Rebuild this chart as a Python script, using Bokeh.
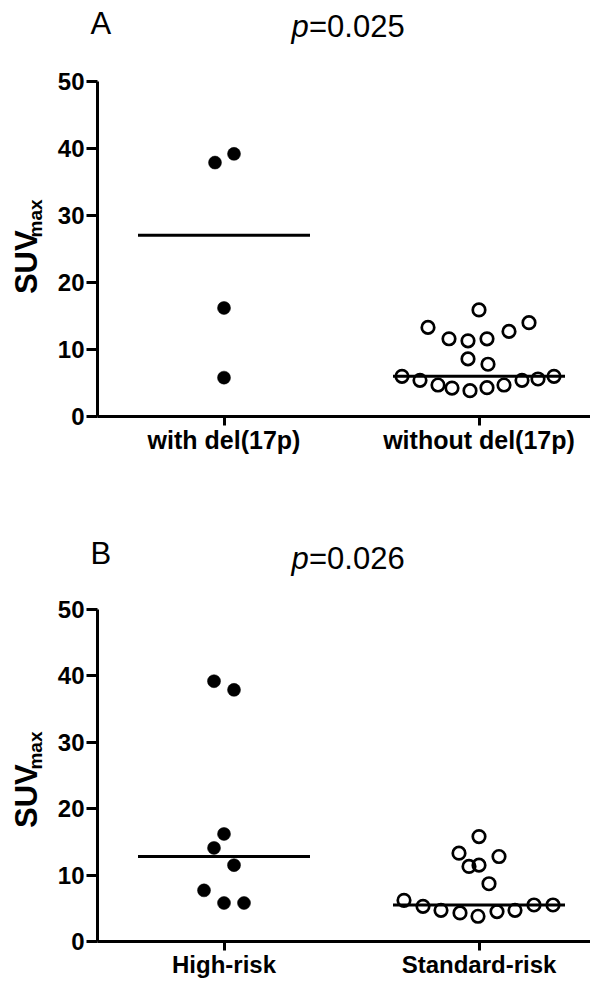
import numpy as np
from bokeh.plotting import figure
from bokeh.models import Range1d, FixedTicker
from bokeh.layouts import column, row
from bokeh.core.properties import value
from bokeh.embed import file_html
from bokeh.resources import INLINE

FONT = "Liberation Sans"

# ---------------- data ----------------
a_letter = "A"
a_pvalue = "0.025"
a_categories = ["with del(17p)", "without del(17p)"]
a_with = [37.9, 39.2, 16.2, 5.8]
a_without = [15.9, 13.3, 14.0, 11.6, 11.3, 11.6, 12.7, 8.6, 7.8,
             6.0, 5.4, 4.7, 4.25, 3.85, 4.3, 4.7, 5.4, 5.6, 6.0]

b_letter = "B"
b_pvalue = "0.026"
b_categories = ["High-risk", "Standard-risk"]
b_high = [39.2, 37.9, 16.2, 14.1, 11.5, 7.7, 5.8, 5.8]
b_std = [15.8, 13.3, 12.8, 11.3, 11.5, 8.7,
         6.2, 5.3, 4.7, 4.3, 3.8, 4.5, 4.7, 5.5, 5.5]

y_ticks = [0, 10, 20, 30, 40, 50]
y_title = "SUV"
y_title_sub = "max"

# horizontal column-scatter spread of the points (pixels)
a_with_spread = [-9, 10, 0, 0]
a_without_spread = [0, -51, 50, -30, -11, 8, 30, -11, 9,
                    -77, -59, -41, -27, -9, 8, 25, 43, 59, 75]
b_high_spread = [-10, 10, 0, -10, 10, -20, 0, 20]
b_std_spread = [0, -20, 20, -10, 0, 10,
                -75, -56, -38, -19, -1, 18, 36, 55, 74]

# ---------------- geometry ----------------
W = 590
YLAB_W = 50
MAIN_W = W - YLAB_W
LEFT = 47                  # frame left at x = 97
FRAME_LEFT = YLAB_W + LEFT
FRAME_H = 335
PX_PER_CAT = 255.0
X0 = 1 - (223.5 - FRAME_LEFT) / PX_PER_CAT
X1 = X0 + (W - FRAME_LEFT) / PX_PER_CAT
HALF_LINE = 86 / PX_PER_CAT
BASE_FIX = 12.5            # baseline correction for header texts


def blank(width, height):
    f = figure(width=width, height=height, x_range=Range1d(0, width),
               y_range=Range1d(0, height), x_axis_type=None, y_axis_type=None,
               output_backend="svg", toolbar_location=None, min_border=0)
    f.outline_line_color = None
    f.background_fill_color = "white"
    f.border_fill_color = "white"
    return f


def header(letter, pval, height, letter_base, p_base):
    h = blank(W, height)
    h.text(x=[90], y=[height - letter_base + BASE_FIX], text=[letter],
           text_align="left", text_baseline="alphabetic", text_font=value(FONT),
           text_font_size="31px", text_color="black")
    h.text(x=[291], y=[height - p_base + BASE_FIX], text=["p"], text_align="left",
           text_baseline="alphabetic", text_font=value(FONT),
           text_font_style="italic", text_font_size="31px", text_color="black")
    h.text(x=[308.5], y=[height - p_base + BASE_FIX], text=["=" + pval],
           text_align="left", text_baseline="alphabetic", text_font=value(FONT),
           text_font_size="31px", text_color="black")
    return h


def ylabel(height, bottom):
    f = blank(YLAB_W, height)
    f.text(x=[26], y=[bottom + 133], text=[y_title], angle=np.pi / 2,
           text_align="center", text_baseline="middle", text_font=value(FONT),
           text_font_style="bold", text_font_size="31px", text_color="black")
    f.text(x=[35], y=[bottom + 186], text=[y_title_sub], angle=np.pi / 2,
           text_align="center", text_baseline="middle", text_font=value(FONT),
           text_font_style="bold", text_font_size="19px", text_color="black")
    return f


def main(cats, g1, g2, s1, s2, height, top, bottom, cat_font):
    p = figure(width=MAIN_W, height=height, x_range=Range1d(X0, X1),
               y_range=Range1d(0, 50), output_backend="svg",
               toolbar_location=None, min_border_left=LEFT,
               min_border_right=0, min_border_top=top,
               min_border_bottom=bottom)
    p.outline_line_color = None
    p.xgrid.visible = False
    p.ygrid.visible = False
    p.background_fill_color = "white"
    p.border_fill_color = "white"

    for ax in (p.xaxis[0], p.yaxis[0]):
        ax.axis_line_width = 3
        ax.axis_line_color = "black"
        ax.major_tick_line_width = 3
        ax.major_tick_line_color = "black"
        ax.major_tick_in = 0
        ax.minor_tick_in = 0
        ax.minor_tick_out = 0
        ax.major_label_text_font = FONT
        ax.major_label_text_font_style = "bold"
        ax.major_label_text_color = "black"

    p.yaxis[0].ticker = FixedTicker(ticks=y_ticks)
    p.yaxis[0].major_tick_out = 11
    p.yaxis[0].major_label_text_font_size = "24px"
    p.yaxis[0].major_label_standoff = 2

    p.xaxis[0].ticker = FixedTicker(ticks=[1, 2])
    p.xaxis[0].major_label_overrides = {1: cats[0], 2: cats[1]}
    p.xaxis[0].major_tick_out = 9
    p.xaxis[0].major_label_text_font_size = cat_font
    p.xaxis[0].major_label_standoff = 0

    meds = [float(np.median(g1)), float(np.median(g2))]
    p.segment(x0=[1 - HALF_LINE, 2 - HALF_LINE], x1=[1 + HALF_LINE, 2 + HALF_LINE],
              y0=meds, y1=meds, line_width=3, line_color="black")

    p.scatter(x=1 + np.array(s1) / PX_PER_CAT, y=g1, marker="circle",
              size=13, fill_color="black", line_color="black", line_width=0.5)
    p.scatter(x=2 + np.array(s2) / PX_PER_CAT, y=g2, marker="circle",
              size=12.5, fill_color=None, line_color="black", line_width=2.7)
    return p


# Panel A: header 0..64, plot row 64..470 (frame 81..416)
A_HEAD = 64
A_ROW = 406
A_TOP = 17
A_BOT = A_ROW - A_TOP - FRAME_H
head_a = header(a_letter, a_pvalue, A_HEAD, 35, 38.3)
main_a = main(a_categories, a_with, a_without, a_with_spread, a_without_spread,
              A_ROW, A_TOP, A_BOT, "25px")
ylab_a = ylabel(A_ROW, A_BOT)

# Panel B: header 470..594, plot row 594..980 (frame 609..944)
B_HEAD = 124
B_ROW = 386
B_TOP = 15
B_BOT = B_ROW - B_TOP - FRAME_H
head_b = header(b_letter, b_pvalue, B_HEAD, 95, 100)
main_b = main(b_categories, b_high, b_std, b_high_spread, b_std_spread,
              B_ROW, B_TOP, B_BOT, "24px")
ylab_b = ylabel(B_ROW, B_BOT)

layout = column(head_a, row(ylab_a, main_a, spacing=0),
                head_b, row(ylab_b, main_b, spacing=0), spacing=0)
open("out.html", "w").write(file_html(layout, INLINE))
